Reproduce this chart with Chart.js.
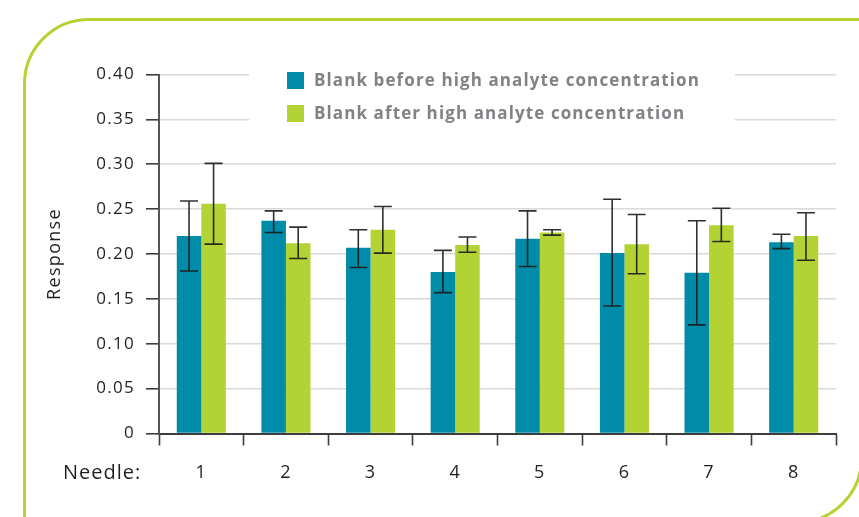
<!DOCTYPE html>
<html>
<head>
<meta charset="utf-8">
<script src="https://cdn.jsdelivr.net/npm/chart.js@4/dist/chart.umd.min.js"></script>
<style>
  html, body { margin: 0; padding: 0; background: #ffffff; overflow: hidden; }
  #wrap { position: relative; width: 859px; height: 517px; }
  #frame {
    position: absolute; left: 23px; top: 18px; width: 840px; height: 506px;
    box-sizing: border-box; border: 3px solid #b5d334;
    border-radius: 66px 0 66px 0;
  }
  #chart { position: absolute; left: 0; top: 0; }
</style>
</head>
<body>
<div id="wrap">
  <div id="frame"></div>
  <canvas id="chart" width="859" height="517"></canvas>
</div>
<script>
// Needle numbers on the x axis
const needles = ['1', '2', '3', '4', '5', '6', '7', '8'];

// Mean response and error range for the blank run before the high-concentration sample
const before     = [0.220, 0.237, 0.207, 0.180, 0.217, 0.201, 0.179, 0.213];
const beforeLow  = [0.181, 0.224, 0.185, 0.157, 0.186, 0.142, 0.121, 0.206];
const beforeHigh = [0.259, 0.248, 0.227, 0.204, 0.248, 0.261, 0.237, 0.222];

// Mean response and error range for the blank run after the high-concentration sample
const after     = [0.256, 0.212, 0.227, 0.210, 0.224, 0.211, 0.232, 0.220];
const afterLow  = [0.211, 0.195, 0.201, 0.202, 0.221, 0.178, 0.214, 0.193];
const afterHigh = [0.301, 0.230, 0.253, 0.219, 0.227, 0.244, 0.251, 0.246];

const seriesLabels = ['Blank before high analyte concentration', 'Blank after high analyte concentration'];
const yTitle = 'Response';
const xCaption = 'Needle:';

const TEAL = '#008ba8';
const GREEN = '#b3d335';
const INK = '#231f20';
const FONT = "'Open Sans', 'Noto Sans', sans-serif";

// Slightly open tracking for all chart text
const tracking = {
  id: 'tracking',
  beforeUpdate(chart) { chart.ctx.letterSpacing = '1.3px'; },
  beforeDraw(chart) { chart.ctx.letterSpacing = '1.3px'; }
};

// Vertical error bars with caps, positioned through the value scale
const errorBars = {
  id: 'errorBars',
  afterDatasetsDraw(chart) {
    const { ctx, scales: { y } } = chart;
    ctx.save();
    ctx.strokeStyle = 'rgba(25,25,25,0.9)';
    ctx.lineWidth = 1.6;
    chart.data.datasets.forEach((ds, i) => {
      const meta = chart.getDatasetMeta(i);
      meta.data.forEach((bar, j) => {
        const x = bar.x;
        const yl = y.getPixelForValue(ds.errLow[j]);
        const yh = y.getPixelForValue(ds.errHigh[j]);
        ctx.beginPath();
        ctx.moveTo(x, yl); ctx.lineTo(x, yh);
        ctx.moveTo(x - 9, yh); ctx.lineTo(x + 9, yh);
        ctx.moveTo(x - 9, yl); ctx.lineTo(x + 9, yl);
        ctx.stroke();
      });
    });
    ctx.restore();
  }
};

// Legend panel laid over the top gridlines, plus the "Needle:" caption
const overlay = {
  id: 'overlay',
  afterDraw(chart) {
    const { ctx, chartArea } = chart;
    ctx.save();
    ctx.fillStyle = '#ffffff';
    ctx.fillRect(249, chartArea.top - 12, 486, 66);

    ctx.font = 'bold 17px ' + FONT;
    ctx.letterSpacing = '1.1px';
    ctx.textBaseline = 'middle';
    ctx.textAlign = 'left';
    chart.data.datasets.forEach((ds, i) => {
      const rowY = chartArea.top - 2.5 + i * 33;
      ctx.fillStyle = ds.backgroundColor;
      ctx.fillRect(287, rowY, 17, 17);
      ctx.fillStyle = '#818286';
      ctx.fillText(ds.label, 314, rowY + 9);
    });

    ctx.font = '20px ' + FONT;
    ctx.letterSpacing = '1px';
    ctx.fillStyle = INK;
    ctx.textAlign = 'left';
    ctx.fillText(xCaption, 63, chartArea.bottom + 40);
    ctx.restore();
  }
};

new Chart(document.getElementById('chart'), {
  type: 'bar',
  data: {
    labels: needles,
    datasets: [
      { label: seriesLabels[0], data: before, errLow: beforeLow, errHigh: beforeHigh, backgroundColor: TEAL },
      { label: seriesLabels[1], data: after, errLow: afterLow, errHigh: afterHigh, backgroundColor: GREEN }
    ]
  },
  options: {
    responsive: false,
    animation: false,
    devicePixelRatio: 1,
    categoryPercentage: 0.58,
    barPercentage: 1,
    layout: { padding: { left: 0, top: 74.5, right: 23, bottom: 0 } },
    plugins: { legend: { display: false }, tooltip: { enabled: false } },
    scales: {
      x: {
        grid: { drawOnChartArea: false, drawTicks: true, tickLength: 12, tickColor: '#3d3d3d', tickWidth: 1.6, offset: true },
        border: { color: '#3d3d3d', width: 2 },
        ticks: { color: INK, font: { family: FONT, size: 18 }, padding: 17 },
        afterFit(scale) { scale.height = 83.5; }
      },
      y: {
        min: 0, max: 0.4,
        grid: { color: '#d9d9d9', lineWidth: 1.6, tickLength: 13, tickColor: '#3d3d3d', tickWidth: 1.6 },
        border: { color: '#555555', width: 2 },
        ticks: {
          stepSize: 0.05, color: INK, padding: 11,
          font: { family: FONT, size: 17 },
          callback: v => (Math.abs(v) < 1e-9 ? '0' : v.toFixed(2))
        },
        title: { display: true, text: yTitle, color: INK, font: { family: FONT, size: 18 }, padding: { top: 44, bottom: 0 } },
        afterFit(scale) { scale.width = 159; }
      }
    }
  },
  plugins: [tracking, errorBars, overlay]
});
</script>
</body>
</html>
